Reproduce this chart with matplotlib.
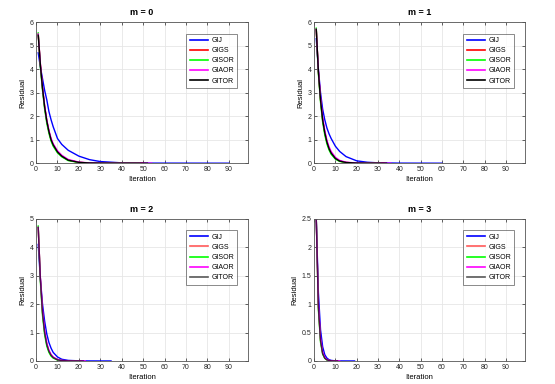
import matplotlib
matplotlib.use("Agg")
import matplotlib.pyplot as plt
from matplotlib.ticker import FormatStrFormatter, MultipleLocator

plt.rcParams["font.family"] = ["Liberation Sans", "DejaVu Sans"]

METHODS = ["GIJ", "GIGS", "GISOR", "GIAOR", "GITOR"]
COLORS = ["#0000ff", "#ff0000", "#00ff00", "#ff00ff", "#000000"]
TITLES = ["m = 0", "m = 1", "m = 2", "m = 3"]

# m = 0
M0_ITER = [1, 2, 3, 4, 5, 6, 7, 8, 10, 12, 15, 20, 25, 30, 40, 50]
M0_GIJ = [4.7, 4.1, 3.6, 3.1, 2.7, 2.2, 1.85, 1.55, 1.05, 0.8, 0.55, 0.3, 0.15, 0.07, 0.015, 0.004]
M0_GIGS = [5.5, 4.2, 3.2, 2.4, 1.8, 1.35, 1.0, 0.78, 0.48, 0.3, 0.13, 0.035, 0.01, 0.003, 0.0005, 0.0001]
M0_GISOR = [5.55, 4.1, 3.1, 2.3, 1.7, 1.27, 0.94, 0.72, 0.44, 0.27, 0.11, 0.03, 0.008, 0.002, 0.0003, 0.0]
M0_GIAOR = [5.5, 4.25, 3.25, 2.45, 1.85, 1.4, 1.06, 0.83, 0.53, 0.34, 0.16, 0.045, 0.013, 0.004, 0.0006, 0.0001]
M0_GITOR = [5.45, 4.2, 3.2, 2.4, 1.8, 1.35, 1.0, 0.78, 0.48, 0.3, 0.13, 0.035, 0.01, 0.003, 0.0005, 0.0001]
M0_END = [90, 50, 48, 54, 52]

# m = 1
M1_ITER = [1, 2, 3, 4, 5, 6, 7, 8, 10, 12, 15, 20, 25, 30, 40]
M1_GIJ = [5.3, 4.0, 3.0, 2.3, 1.85, 1.5, 1.25, 1.05, 0.72, 0.5, 0.28, 0.1, 0.04, 0.015, 0.003]
M1_GIGS = [5.7, 3.9, 2.7, 1.85, 1.3, 0.9, 0.62, 0.43, 0.2, 0.09, 0.03, 0.005, 0.001, 0.0002, 0.0]
M1_GISOR = [5.75, 3.8, 2.6, 1.75, 1.2, 0.82, 0.56, 0.38, 0.17, 0.075, 0.024, 0.004, 0.0007, 0.0001, 0.0]
M1_GIAOR = [5.7, 3.95, 2.8, 1.95, 1.4, 0.98, 0.7, 0.5, 0.25, 0.12, 0.042, 0.008, 0.0015, 0.0003, 0.0]
M1_GITOR = [5.7, 3.9, 2.7, 1.85, 1.3, 0.9, 0.62, 0.43, 0.2, 0.09, 0.03, 0.005, 0.001, 0.0002, 0.0]
M1_END = [60, 33, 31, 36, 34]

# m = 2
M2_ITER = [1, 2, 3, 4, 5, 6, 7, 8, 10, 12, 15, 20, 25, 30]
M2_GIJ = [4.1, 2.9, 2.0, 1.4, 0.95, 0.65, 0.45, 0.3, 0.14, 0.06, 0.02, 0.004, 0.001, 0.0002]
M2_GIGS = [4.7, 2.9, 1.7, 1.0, 0.58, 0.34, 0.2, 0.12, 0.04, 0.015, 0.004, 0.0005, 0.0, 0.0]
M2_GISOR = [4.75, 2.8, 1.6, 0.92, 0.52, 0.3, 0.17, 0.1, 0.033, 0.012, 0.003, 0.0003, 0.0, 0.0]
M2_GIAOR = [4.7, 2.95, 1.78, 1.07, 0.64, 0.38, 0.23, 0.14, 0.05, 0.02, 0.006, 0.0008, 0.0, 0.0]
M2_GITOR = [4.7, 2.9, 1.7, 1.0, 0.58, 0.34, 0.2, 0.12, 0.04, 0.015, 0.004, 0.0005, 0.0, 0.0]
M2_END = [35, 21, 20, 23, 22]

# m = 3
M3_ITER = [1, 2, 3, 4, 5, 6, 7, 8, 10, 12, 15]
M3_GIJ = [2.5, 1.2, 0.55, 0.25, 0.11, 0.05, 0.022, 0.01, 0.002, 0.0005, 0.0001]
M3_GIGS = [2.5, 0.95, 0.36, 0.13, 0.05, 0.02, 0.008, 0.003, 0.0005, 0.0, 0.0]
M3_GISOR = [2.52, 0.9, 0.33, 0.12, 0.045, 0.017, 0.006, 0.002, 0.0004, 0.0, 0.0]
M3_GIAOR = [2.5, 1.0, 0.4, 0.15, 0.06, 0.024, 0.01, 0.004, 0.0007, 0.0, 0.0]
M3_GITOR = [2.5, 0.95, 0.36, 0.13, 0.05, 0.02, 0.008, 0.003, 0.0005, 0.0, 0.0]
M3_END = [19, 11, 10, 12, 11]

PANELS = [
    (M0_ITER, [M0_GIJ, M0_GIGS, M0_GISOR, M0_GIAOR, M0_GITOR], M0_END),
    (M1_ITER, [M1_GIJ, M1_GIGS, M1_GISOR, M1_GIAOR, M1_GITOR], M1_END),
    (M2_ITER, [M2_GIJ, M2_GIGS, M2_GISOR, M2_GIAOR, M2_GITOR], M2_END),
    (M3_ITER, [M3_GIJ, M3_GIGS, M3_GISOR, M3_GIAOR, M3_GITOR], M3_END),
]
YMAX = [6, 6, 5, 2.5]
YSTEP = [1, 1, 1, 0.5]

# axes boxes in figure fraction (left, bottom, width, height)
BOXES = [
    (0.065, 0.575, 0.382, 0.367),
    (0.566, 0.575, 0.380, 0.367),
    (0.065, 0.060, 0.382, 0.370),
    (0.566, 0.060, 0.380, 0.370),
]

fig = plt.figure(figsize=(5.55, 3.84), dpi=100)
fig.patch.set_facecolor("white")

for k, (iters, series, ends) in enumerate(PANELS):
    ax = fig.add_axes(BOXES[k])
    lower = k >= 2
    for name, color, vals, end in zip(METHODS, COLORS, series, ends):
        xs = [i for i in iters if i < end]
        ys = vals[:len(xs)]
        xs = xs + [end]
        ys = ys + [0.0]
        alpha = 0.65 if lower and name in ("GIGS", "GITOR") else 1.0
        ax.plot(xs, ys, color=color, lw=1.0, alpha=alpha, label=name)

    ax.set_xlim(0, 99)
    ax.set_ylim(0, YMAX[k])
    ax.set_xticks(range(0, 100, 10))
    ax.yaxis.set_major_locator(MultipleLocator(YSTEP[k]))
    ax.yaxis.set_major_formatter(FormatStrFormatter("%g"))
    ax.grid(True, color="#e6e6e6", lw=0.6)
    ax.set_axisbelow(True)
    for sp in ax.spines.values():
        sp.set_color("#555555")
        sp.set_linewidth(0.6)
    ax.tick_params(direction="in", length=2.5, width=0.5, labelsize=5,
                   colors="#262626", top=True, right=True, pad=2)
    ax.set_title(TITLES[k], fontsize=6.5, fontweight="bold", pad=5)
    ax.set_xlabel("Iteration", fontsize=5.5, labelpad=2)
    ax.set_ylabel("Residual", fontsize=5.5, labelpad=2)

    leg = ax.legend(loc="upper right", bbox_to_anchor=(0.95, 0.92), fontsize=5,
                    frameon=True, fancybox=False, handlelength=2.6,
                    handletextpad=0.5, borderpad=0.5, labelspacing=0.45,
                    borderaxespad=0)
    leg.get_frame().set_edgecolor("#555555")
    leg.get_frame().set_linewidth(0.6)
    for line in leg.get_lines():
        line.set_linewidth(1.2)

fig.savefig("out.png", dpi=100, facecolor="white")
